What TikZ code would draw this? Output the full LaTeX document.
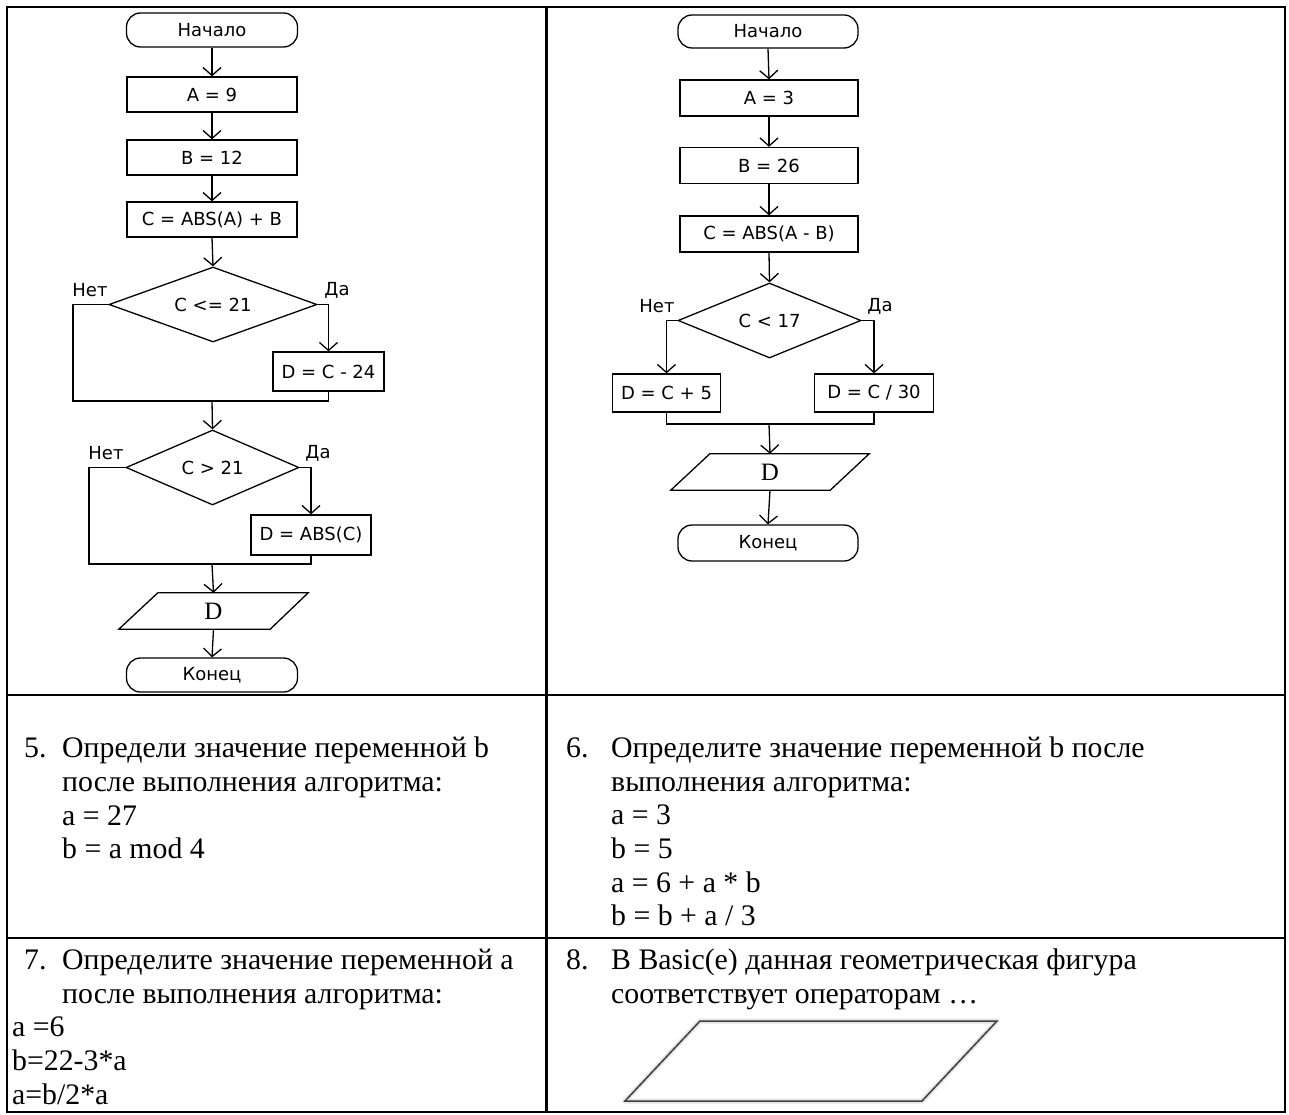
\documentclass[tikz,border=0pt]{standalone}
\usepackage{fontspec}
\setmainfont{Liberation Serif}
\newfontfamily\fcfont{DejaVu Sans}
\usetikzlibrary{arrows.meta,shapes.geometric}
\begin{document}
\begin{tikzpicture}[x=1pt,y=-1pt,
  >={Straight Barb[length=8pt,width=18pt]},
  fc/.style={font=\fcfont\fontsize{18}{21}\selectfont},
  flow/.style={line width=1.3pt},
  proc/.style={fc,draw,flow,rectangle,inner sep=0pt,minimum width=170pt,minimum height=35pt},
  term/.style={fc,draw,flow,rectangle,rounded corners=14pt,inner sep=0pt,minimum width=171pt,minimum height=34pt},
  dec/.style={fc,draw,flow,diamond,shape aspect=2.6,inner sep=0pt},
  iobox/.style={font=\fontsize{25}{27}\selectfont,inner sep=0pt,minimum height=36pt},
  lbl/.style={fc,inner sep=0pt},
  grid/.style={line width=2.5pt,black},
  txt/.style={font=\fontsize{29.8}{33.6}\selectfont,inner sep=0pt,anchor=base west}
]
\fill[white] (0,0) rectangle (1289,1115);

% ---------- left flowchart ----------
\node[term] (L0) at (212,30) {Начало};
\node[proc] (L1) at (212,94.5) {A = 9};
\node[proc] (L2) at (212,157.5) {B = 12};
\node[proc] (L3) at (212,219.5) {C = ABS(A) + B};
\node[dec,minimum width=208pt,minimum height=75pt] (L4) at (213,304.5) {C <= 21};
\node[proc,minimum width=111pt,minimum height=39pt] (L5) at (328.5,371.5) {D = C - 24};
\coordinate (L4m) at (212,401);
\coordinate (L4l) at (73,401);
\node[dec,minimum width=173pt,minimum height=75pt] (L6) at (212.5,467.5) {C > 21};
\node[proc,minimum width=120pt,minimum height=40pt] (L7) at (311,535) {D = ABS(C)};
\coordinate (L6m) at (212,564);
\coordinate (L6l) at (89,564);
\node[iobox,minimum width=189pt] (L8) at (213.5,611) {D};
\node[term] (L9) at (212,675) {Конец};

\draw[flow] ([xshift=39pt]L8.north west) -- (L8.north east) -- ([xshift=-38pt]L8.south east) -- (L8.south west) -- cycle;

\node[lbl] (L4no) at (90,290) {Нет};
\node[lbl] (L4yes) at (337,290) {Да};
\node[lbl] (L6no) at (106,453) {Нет};
\node[lbl] (L6yes) at (318,453) {Да};

\draw[flow,->] (L0.south) -- (L1.north);
\draw[flow,->] (L1.south) -- (L2.north);
\draw[flow,->] (L2.south) -- (L3.north);
\draw[flow,->] (L3.south) -- (L4.north);
\draw[flow,->] (L4.east) -| (L5.north);
\draw[flow] (L4.west) -| (L4l) -| (L5.south);
\draw[flow,->] (L4m) -- (L6.north);
\draw[flow,->] (L6.east) -| (L7.north);
\draw[flow] (L6.west) -| (L6l) -| (L7.south);
\draw[flow,->] (L6m) -- (L8.north);
\draw[flow,->] (L8.south) -- (L9.north);

% ---------- right flowchart ----------
\node[term,minimum width=180pt,minimum height=33pt] (R0) at (768,31.5) {Начало};
\node[proc,minimum width=178pt,minimum height=36pt] (R1) at (769,98) {A = 3};
\node[proc,minimum width=178pt,minimum height=36pt] (R2) at (769,165.5) {B = 26};
\node[proc,minimum width=178pt,minimum height=36pt] (R3) at (769,234) {C = ABS(A - B)};
\node[dec,minimum width=183pt,minimum height=75pt] (R4) at (769.5,320.5) {C < 17};
\node[proc,minimum width=108pt,minimum height=38pt] (R5) at (666.5,393) {D = C + 5};
\node[proc,minimum width=119pt,minimum height=38pt] (R6) at (874,393) {D = C / 30};
\coordinate (R4m) at (769,424);
\node[iobox,minimum width=198pt] (R7) at (770,472) {D};
\node[term,minimum width=180pt,minimum height=36pt] (R8) at (768,543) {Конец};

\draw[flow] ([xshift=39pt]R7.north west) -- (R7.north east) -- ([xshift=-39pt]R7.south east) -- (R7.south west) -- cycle;

\node[lbl] (R4no) at (657,306) {Нет};
\node[lbl] (R4yes) at (880,306) {Да};

\draw[flow,->] (R0.south) -- (R1.north);
\draw[flow,->] (R1.south) -- (R2.north);
\draw[flow,->] (R2.south) -- (R3.north);
\draw[flow,->] (R3.south) -- (R4.north);
\draw[flow,->] (R4.west) -| (R5.north);
\draw[flow,->] (R4.east) -| (R6.north);
\draw[flow] (R5.south) |- (R4m) -| (R6.south);
\draw[flow,->] (R4m) -- (R7.north);
\draw[flow,->] (R7.south) -- (R8.north);

% ---------- table grid ----------
\draw[grid] (7,7) rectangle (1285,1112);
\draw[grid] (7,695) -- (1285,695);
\draw[grid] (7,938) -- (1285,938);
\draw[grid] (546.5,7) -- (546.5,1112);

% ---------- cell 5 ----------
\node[txt] (t5n) at (24,757) {5.};
\node[txt] (t5a) at (62,757) {Определи значение переменной b};
\node[txt] (t5b) at (62,791) {после выполнения алгоритма:};
\node[txt] (t5c) at (62,825) {a = 27};
\node[txt] (t5d) at (62,858) {b = a mod 4};

% ---------- cell 6 ----------
\node[txt] (t6n) at (566,757) {6.};
\node[txt] (t6a) at (611,757) {Определите значение переменной b после};
\node[txt] (t6b) at (611,791) {выполнения алгоритма:};
\node[txt] (t6c) at (611,824) {a = 3};
\node[txt] (t6d) at (611,858) {b = 5};
\node[txt] (t6e) at (611,892) {a = 6 + a * b};
\node[txt] (t6f) at (611,925) {b = b + a / 3};

% ---------- cell 7 ----------
\node[txt] (t7n) at (24,969) {7.};
\node[txt] (t7a) at (62,969) {Определите значение переменной a};
\node[txt] (t7b) at (62,1003) {после выполнения алгоритма:};
\node[txt] (t7c) at (12,1036) {a =6};
\node[txt] (t7d) at (12,1070) {b=22-3*a};
\node[txt] (t7e) at (12,1104) {a=b/2*a};

% ---------- cell 8 ----------
\node[txt] (t8n) at (566,969) {8.};
\node[txt] (t8a) at (611,969) {В Basic(e) данная геометрическая фигура};
\node[txt] (t8b) at (611,1003) {соответствует операторам …};
\draw[line width=5pt,black!10,line join=round] (700,1021) -- (997,1021) -- (922,1101) -- (625,1101) -- cycle;
\draw[line width=1.5pt,black!75] (700,1021) -- (997,1021) -- (922,1101) -- (625,1101) -- cycle;
\end{tikzpicture}
\end{document}
